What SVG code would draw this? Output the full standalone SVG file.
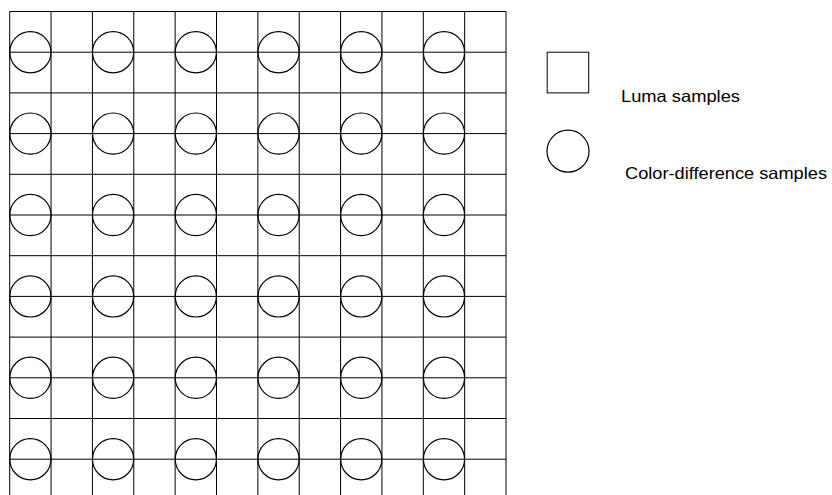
<svg xmlns="http://www.w3.org/2000/svg" width="832" height="495" viewBox="0 0 832 495">
<style>
.ln{stroke:#000;stroke-width:1;fill:none}
.c{stroke:#000;stroke-width:1.2;fill:none}
.t{font-family:"Liberation Sans",Arial,sans-serif;font-size:16.5px;fill:#000}
</style>
<rect width="832" height="495" fill="#fff"/>
<g id="grid" class="ln">
<path d="M9.7 11.5V495M51.06 11.5V495M92.42 11.5V495M133.78 11.5V495M175.14 11.5V495M216.5 11.5V495M257.86 11.5V495M299.22 11.5V495M340.58 11.5V495M381.94 11.5V495M423.3 11.5V495M464.66 11.5V495M506.02 11.5V495"/>
<path d="M9.7 11.5H506.02M9.7 52.2H506.02M9.7 92.9H506.02M9.7 133.6H506.02M9.7 174.3H506.02M9.7 215H506.02M9.7 255.7H506.02M9.7 296.4H506.02M9.7 337.1H506.02M9.7 377.8H506.02M9.7 418.5H506.02M9.7 459.2H506.02"/>
</g>
<defs><circle id="cs" r="20.6" class="c"/></defs>
<g id="chroma">
<use href="#cs" x="30.38" y="52.2"/><use href="#cs" x="113.1" y="52.2"/><use href="#cs" x="195.82" y="52.2"/><use href="#cs" x="278.54" y="52.2"/><use href="#cs" x="361.26" y="52.2"/><use href="#cs" x="443.98" y="52.2"/>
<use href="#cs" x="30.38" y="133.6"/><use href="#cs" x="113.1" y="133.6"/><use href="#cs" x="195.82" y="133.6"/><use href="#cs" x="278.54" y="133.6"/><use href="#cs" x="361.26" y="133.6"/><use href="#cs" x="443.98" y="133.6"/>
<use href="#cs" x="30.38" y="215"/><use href="#cs" x="113.1" y="215"/><use href="#cs" x="195.82" y="215"/><use href="#cs" x="278.54" y="215"/><use href="#cs" x="361.26" y="215"/><use href="#cs" x="443.98" y="215"/>
<use href="#cs" x="30.38" y="296.4"/><use href="#cs" x="113.1" y="296.4"/><use href="#cs" x="195.82" y="296.4"/><use href="#cs" x="278.54" y="296.4"/><use href="#cs" x="361.26" y="296.4"/><use href="#cs" x="443.98" y="296.4"/>
<use href="#cs" x="30.38" y="377.8"/><use href="#cs" x="113.1" y="377.8"/><use href="#cs" x="195.82" y="377.8"/><use href="#cs" x="278.54" y="377.8"/><use href="#cs" x="361.26" y="377.8"/><use href="#cs" x="443.98" y="377.8"/>
<use href="#cs" x="30.38" y="459.2"/><use href="#cs" x="113.1" y="459.2"/><use href="#cs" x="195.82" y="459.2"/><use href="#cs" x="278.54" y="459.2"/><use href="#cs" x="361.26" y="459.2"/><use href="#cs" x="443.98" y="459.2"/>
</g>
<g id="legend-luma">
<rect x="547.2" y="52.2" width="41.5" height="40.7" class="ln"/>
<text class="t" x="621" y="102.3" textLength="119" lengthAdjust="spacingAndGlyphs">Luma samples</text>
</g>
<g id="legend-chroma">
<circle cx="568" cy="151.2" r="21" class="c"/>
<text class="t" x="625" y="178.6" textLength="202" lengthAdjust="spacingAndGlyphs">Color-difference samples</text>
</g>
</svg>
